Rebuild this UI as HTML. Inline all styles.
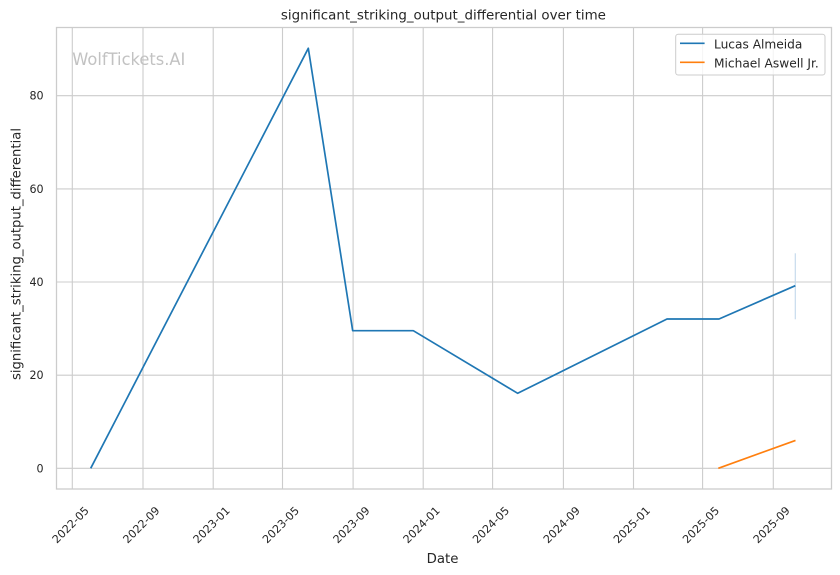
<!DOCTYPE html>
<html>
<head>
<meta charset="utf-8">
<style>
  html,body{margin:0;padding:0;background:#fff;}
  svg{display:block;}
  text{font-family:"DejaVu Sans","Liberation Sans",sans-serif;fill:#262626;}
</style>
</head>
<body>
<svg width="840" height="575" viewBox="0 0 840 575" xmlns="http://www.w3.org/2000/svg">
  <rect x="0" y="0" width="840" height="575" fill="#fff"/>
  <!-- grid -->
  <g stroke="#cccccc" stroke-width="1.1" fill="none">
    <line x1="72.3" y1="27.5" x2="72.3" y2="489"/>
    <line x1="143.0" y1="27.5" x2="143.0" y2="489"/>
    <line x1="213.2" y1="27.5" x2="213.2" y2="489"/>
    <line x1="282.5" y1="27.5" x2="282.5" y2="489"/>
    <line x1="353.1" y1="27.5" x2="353.1" y2="489"/>
    <line x1="423.2" y1="27.5" x2="423.2" y2="489"/>
    <line x1="492.6" y1="27.5" x2="492.6" y2="489"/>
    <line x1="563.4" y1="27.5" x2="563.4" y2="489"/>
    <line x1="633.5" y1="27.5" x2="633.5" y2="489"/>
    <line x1="702.6" y1="27.5" x2="702.6" y2="489"/>
    <line x1="773.3" y1="27.5" x2="773.3" y2="489"/>
    <line x1="56.5" y1="468.3" x2="831.5" y2="468.3"/>
    <line x1="56.5" y1="375.2" x2="831.5" y2="375.2"/>
    <line x1="56.5" y1="282.0" x2="831.5" y2="282.0"/>
    <line x1="56.5" y1="188.9" x2="831.5" y2="188.9"/>
    <line x1="56.5" y1="95.7" x2="831.5" y2="95.7"/>
  </g>
  <!-- spines -->
  <rect x="56.5" y="27.5" width="775" height="461.5" fill="none" stroke="#cccccc" stroke-width="1.3"/>

  <!-- watermark -->
  <text x="72.3" y="65" font-size="17" style="fill:#c2c2c2" textLength="113" lengthAdjust="spacingAndGlyphs">WolfTickets.AI</text>

  <!-- CI band (single x) -->
  <line x1="795.3" y1="253.3" x2="795.3" y2="319.3" stroke="#c6dbec" stroke-width="1.2"/>

  <!-- series -->
  <polyline fill="none" stroke="#1f77b4" stroke-width="1.7" stroke-linejoin="round"
    points="90.7,468.3 308.3,48.3 352.7,330.7 413.3,330.7 517.7,393.3 667,319 719,319 795.3,285.7"/>
  <polyline fill="none" stroke="#ff7f0e" stroke-width="1.7" stroke-linejoin="round"
    points="718.3,468.3 795.5,440.4"/>

  <!-- y tick labels -->
  <g font-size="11.1" text-anchor="end">
    <text x="43.6" y="472.3">0</text>
    <text x="43.6" y="379.2">20</text>
    <text x="43.6" y="286.0">40</text>
    <text x="43.6" y="192.9">60</text>
    <text x="43.6" y="99.7">80</text>
  </g>

  <!-- x tick labels -->
  <g font-size="11.1" text-anchor="middle">
    <text x="73.3" y="527.6" transform="rotate(-45 73.3 527.6)">2022-05</text>
    <text x="144.0" y="527.6" transform="rotate(-45 144.0 527.6)">2022-09</text>
    <text x="214.2" y="527.6" transform="rotate(-45 214.2 527.6)">2023-01</text>
    <text x="283.5" y="527.6" transform="rotate(-45 283.5 527.6)">2023-05</text>
    <text x="354.1" y="527.6" transform="rotate(-45 354.1 527.6)">2023-09</text>
    <text x="424.2" y="527.6" transform="rotate(-45 424.2 527.6)">2024-01</text>
    <text x="493.6" y="527.6" transform="rotate(-45 493.6 527.6)">2024-05</text>
    <text x="564.4" y="527.6" transform="rotate(-45 564.4 527.6)">2024-09</text>
    <text x="634.5" y="527.6" transform="rotate(-45 634.5 527.6)">2025-01</text>
    <text x="703.6" y="527.6" transform="rotate(-45 703.6 527.6)">2025-05</text>
    <text x="774.3" y="527.6" transform="rotate(-45 774.3 527.6)">2025-09</text>
  </g>

  <!-- axis labels -->
  <text x="442.5" y="563" font-size="13.3" text-anchor="middle">Date</text>
  <text x="20.5" y="254" font-size="13.3" text-anchor="middle" transform="rotate(-90 20.5 254)" textLength="252" lengthAdjust="spacingAndGlyphs">significant_striking_output_differential</text>

  <!-- title -->
  <text x="443.4" y="19.3" font-size="13.3" text-anchor="middle" textLength="325" lengthAdjust="spacingAndGlyphs">significant_striking_output_differential over time</text>

  <!-- legend -->
  <rect x="675.7" y="34.3" width="149.3" height="40.7" rx="2.5" ry="2.5" fill="#ffffff" fill-opacity="0.8" stroke="#cccccc" stroke-width="1"/>
  <line x1="680" y1="43.3" x2="704.6" y2="43.3" stroke="#1f77b4" stroke-width="1.7"/>
  <line x1="680" y1="62.3" x2="704.6" y2="62.3" stroke="#ff7f0e" stroke-width="1.7"/>
  <g font-size="12.2">
    <text x="714" y="48.4">Lucas Almeida</text>
    <text x="714" y="67.4">Michael Aswell Jr.</text>
  </g>
</svg>
</body>
</html>
